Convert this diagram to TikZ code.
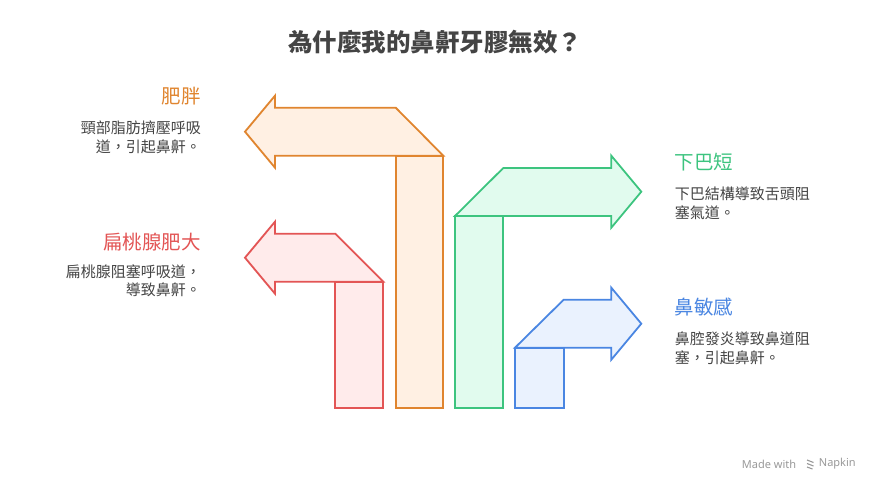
\documentclass[tikz,border=0pt]{standalone}
\usepackage{fontspec}
\setmainfont{Noto Sans CJK TC}
\newfontfamily\footfont{Noto Sans}
\usetikzlibrary{positioning}
\definecolor{orline}{HTML}{E0852F}
\definecolor{orfill}{HTML}{FFF0E3}
\definecolor{rdline}{HTML}{E35555}
\definecolor{rdfill}{HTML}{FFEBEB}
\definecolor{grline}{HTML}{3DC47F}
\definecolor{grfill}{HTML}{E1FBEE}
\definecolor{blline}{HTML}{4A86E2}
\definecolor{blfill}{HTML}{EAF2FE}
\definecolor{txtgray}{HTML}{444444}

\begin{document}
\begin{tikzpicture}[x=1pt,y=-1pt,line join=miter,line width=1.8pt,]
%%
\useasboundingbox [fill=white] (0,0) rectangle (875,492);
\node (node_title) at (435,42) [draw=none,text=txtgray,font=\fontsize{24.5}{28}\selectfont\bfseries] {為什麼我的鼻鼾牙膠無效？};
%
  \draw [orline,fill=orfill] (395.7,155.7) rectangle (443.3,407.7);
  \draw [orline,fill=orfill] (245,131.7) -- (275,95.7) -- (275,107.7) -- (395.7,107.7) -- (443.3,155.7) -- (275,155.7) -- (275,167.7) -- cycle;
  \draw [rdline,fill=rdfill] (335.3,281.7) rectangle (383.3,407.7);
  \draw [rdline,fill=rdfill] (245,257.7) -- (275,221.7) -- (275,233.7) -- (335.3,233.7) -- (383.3,281.7) -- (275,281.7) -- (275,293.7) -- cycle;
  \draw [grline,fill=grfill] (455,216) rectangle (503.3,407.7);
  \draw [grline,fill=grfill] (641.3,191.7) -- (611.3,155.7) -- (611.3,168) -- (503.3,168) -- (455,216) -- (611.3,216) -- (611.3,227.7) -- cycle;
  \draw [blline,fill=blfill] (515,347.7) rectangle (563.7,407.7);
  \draw [blline,fill=blfill] (641.3,323.7) -- (611.3,287.7) -- (611.3,299.7) -- (563.7,299.7) -- (515,347.7) -- (611.3,347.7) -- (611.3,359.7) -- cycle;
%
  \node (node_head_0) at (201.7,96) [anchor=east,inner sep=0pt,text=orline,font=\fontsize{19.5}{24}\selectfont] {肥胖};
  \node (node_desc_0) at (201.7,137.3) [anchor=east,inner sep=0pt,align=right,text=txtgray,font=\fontsize{15}{18.7}\selectfont] {頸部脂肪擠壓呼吸\\道，引起鼻鼾。};
  \node (node_head_1) at (201.7,241.7) [anchor=east,inner sep=0pt,text=rdline,font=\fontsize{19.5}{24}\selectfont] {扁桃腺肥大};
  \node (node_desc_1) at (201.7,280.8) [anchor=east,inner sep=0pt,align=right,text=txtgray,font=\fontsize{15}{18.7}\selectfont] {扁桃腺阻塞呼吸道，\\導致鼻鼾。};
  \node (node_head_2) at (674,161.7) [anchor=west,inner sep=0pt,text=grline,font=\fontsize{19.5}{24}\selectfont] {下巴短};
  \node (node_desc_2) at (674,203.6) [anchor=west,inner sep=0pt,align=left,text=txtgray,font=\fontsize{15}{18.7}\selectfont] {下巴結構導致舌頭阻\\塞氣道。};
  \node (node_head_3) at (674,306.7) [anchor=west,inner sep=0pt,text=blline,font=\fontsize{19.5}{24}\selectfont] {鼻敏感};
  \node (node_desc_3) at (674,348.3) [anchor=west,inner sep=0pt,align=left,text=txtgray,font=\fontsize{15}{18.7}\selectfont] {鼻腔發炎導致鼻道阻\\塞，引起鼻鼾。};
%
  \node (node_made) at (797,464) [anchor=east,inner sep=0pt,text=black!40,font=\footfont\fontsize{11}{12}\selectfont] {Made with};
  \coordinate (node_logo) at (810.5,464);
  \draw [black!40,line width=1.1pt] ([shift={(-3.5,-4)}]node_logo) -- ([shift={(3,-1.5)}]node_logo) ([shift={(-3.5,-0.5)}]node_logo) -- ([shift={(3,2)}]node_logo) ([shift={(-3.5,3)}]node_logo) -- ([shift={(2,5)}]node_logo);
  \node (node_napkin) at (818,464) [anchor=west,inner sep=0pt,text=black!40,font=\footfont\fontsize{11}{12}\selectfont] {Napkin};
%
\end{tikzpicture}
\end{document}
